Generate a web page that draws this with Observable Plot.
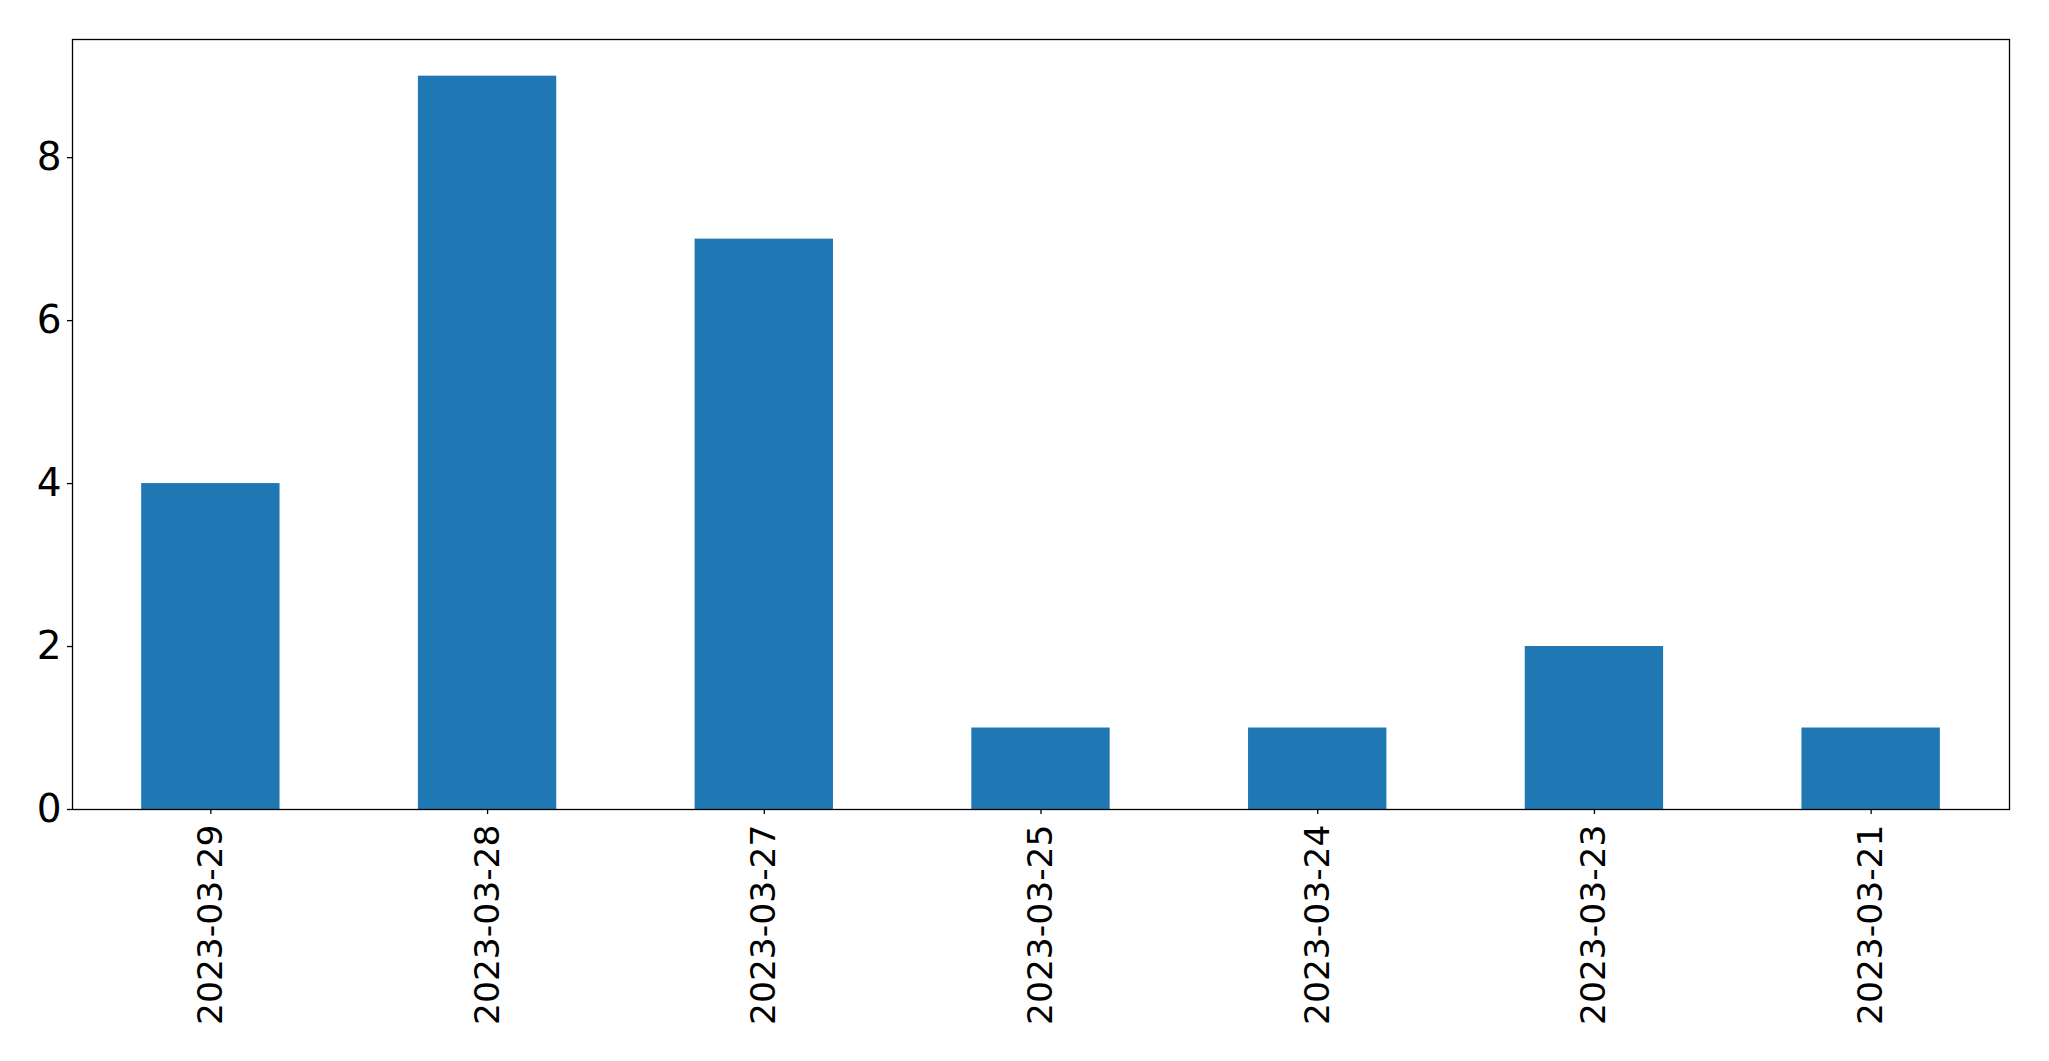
<!DOCTYPE html>
<html>
<head>
<meta charset="utf-8">
<script src="https://cdn.jsdelivr.net/npm/d3@7"></script>
<script src="https://cdn.jsdelivr.net/npm/@observablehq/plot@0.6"></script>
<style>
  html, body { margin: 0; padding: 0; background: #fff; }
  #chart svg { display: block; }
</style>
</head>
<body>
<div id="chart"></div>
<script>
const dates = ["2023-03-29", "2023-03-28", "2023-03-27", "2023-03-25", "2023-03-24", "2023-03-23", "2023-03-21"];
const counts = [4, 9, 7, 1, 1, 2, 1];
const yTicks = [0, 2, 4, 6, 8];

const data = dates.map((d, i) => ({date: d, count: counts[i]}));

const chart = Plot.plot({
  width: 2049,
  height: 1061,
  marginLeft: 72,
  marginRight: 40,
  marginTop: 39,
  marginBottom: 252,
  style: {fontFamily: "DejaVu Sans", fontSize: "35px", color: "#000", background: "#fff"},
  x: {domain: dates, paddingInner: 0.5, paddingOuter: 0.25, round: false, label: null},
  y: {domain: [0, d3.max(counts) * 1.05], label: null},
  marks: [
    Plot.barY(data, {x: "date", y: "count", fill: "#1f77b4"}),
    Plot.axisX({tickRotate: -90, tickSize: 5, tickPadding: 10, stroke: "#000", strokeWidth: 1.3, fontSize: 34.5}),
    Plot.axisY({ticks: yTicks, tickSize: 5, tickPadding: 6, stroke: "#000", strokeWidth: 1.3, fontSize: 39, tickFormat: d3.format("d")}),
    Plot.frame({stroke: "#000", strokeWidth: 1.3})
  ]
});
document.getElementById("chart").appendChild(chart);
</script>
</body>
</html>
